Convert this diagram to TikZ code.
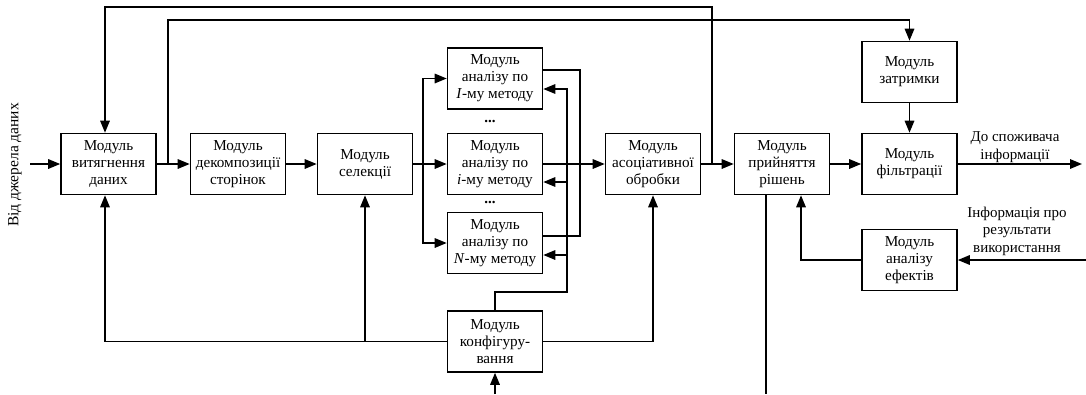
\documentclass[tikz,border=0pt]{standalone}
\usepackage{fontspec}
\setmainfont{Liberation Serif}
\usetikzlibrary{arrows.meta}
\begin{document}
\begin{tikzpicture}[x=1pt,y=-1pt,
  module/.style={draw, line width=1.6pt, minimum width=95pt, minimum height=61pt,
    align=center, inner sep=0pt, font=\fontsize{15.2}{17}\selectfont},
  link/.style={line width=1.6pt},
  arr/.style={link, -{Triangle[length=12pt,width=9.5pt]}},
  lbl/.style={align=center, inner sep=0pt, font=\fontsize{15}{17.5}\selectfont}]
\useasboundingbox (0,0) rectangle (1086,394);

% modules
\node[module] (ext)   at (108.5,164) {Модуль\\витягнення\\даних};
\node[module] (dec)   at (238,164)   {Модуль\\декомпозиції\\сторінок};
\node[module] (sel)   at (365,164)   {Модуль\\селекції};
\node[module] (anI)   at (495,78.5)  {Модуль\\аналізу по\\\textit{I}-му методу};
\node[module] (ani)   at (495,164)   {Модуль\\аналізу по\\\textit{i}-му методу};
\node[module] (anN)   at (495,243)   {Модуль\\аналізу по\\\textit{N}-му методу};
\node[module] (conf)  at (495,341.5) {Модуль\\конфігуру-\\вання};
\node[module] (assoc) at (653,164)   {Модуль\\асоціативної\\обробки};
\node[module] (dec2)  at (782,164)   {Модуль\\прийняття\\рішень};
\node[module] (delay) at (909.5,72)  {Модуль\\затримки};
\node[module] (filt)  at (909.5,164) {Модуль\\фільтрації};
\node[module] (eff)   at (909.5,260) {Модуль\\аналізу\\ефектів};

% labels
\node[lbl] (dots1) at (490,121) {\textbf{...}};
\node[lbl] (dots2) at (490,202) {\textbf{...}};
\node[lbl] (consumer) at (1015,147) {До споживача\\інформації};
\node[lbl] (usage) at (1017,231) {Інформація про\\результати\\використання};
\node[lbl, rotate=90, font=\fontsize{15.5}{18}\selectfont] (source) at (15,165) {Від джерела даних};

% free ends and junctions
\coordinate (src)  at (30,164);
\coordinate (sink) at (1082,164);
\coordinate (fbin) at (1086,260);
\coordinate (cin)  at (495,394);
\coordinate (dout) at (766,394);
\coordinate (fork) at (423,164);
\coordinate (merge) at (580,164);
\coordinate (fb)   at (567,292);
\coordinate (tap1) at (712,164);
\coordinate (tap2) at (168,164);
\coordinate (top1) at (712,7);
\coordinate (top2) at (168,20);

% main flow
\draw[arr] (src) -- (ext);
\draw[arr] (ext) -- (dec);
\draw[arr] (dec) -- (sel);
\draw[arr] (sel) -- (ani);
\draw[arr] (ani) -- (assoc);
\draw[arr] (assoc) -- (dec2);
\draw[arr] (dec2) -- (filt);
\draw[arr] (delay) -- (filt);
\draw[arr] (filt) -- (sink);

% analysis branches
\draw[arr] (fork) |- (anI.west);
\draw[arr] (fork) |- (anN.west);
\draw[link] ([yshift=8.5pt]anI.east) -| (merge) |- ([yshift=7pt]anN.east);

% configuration feedback to analysis modules
\draw[arr] (conf.north) |- (fb) |- ([yshift=-10.5pt]anI.east);
\draw[arr] (fb) |- ([yshift=-18pt]ani.east);
\draw[arr] (fb) |- ([yshift=-12pt]anN.east);

% configuration to other modules
\draw[arr] (conf.west) -| ([xshift=-3.5pt]ext.south);
\draw[arr] (sel.south |- conf.west) -- (sel.south);
\draw[arr] (conf.east) -| (assoc.south);
\draw[arr] (cin) -- (conf.south);

% top loops
\draw[arr] (tap1) -- (top1) -| ([xshift=-3.5pt]ext.north);
\draw[arr] (tap2) -- (top2) -| (delay.north);

% effects analysis
\draw[arr] (fbin) -- (eff);
\draw[arr] (eff.west) -| ([xshift=19pt]dec2.south);
\draw[link] ([xshift=-16pt]dec2.south) -- (dout);
\end{tikzpicture}
\end{document}
